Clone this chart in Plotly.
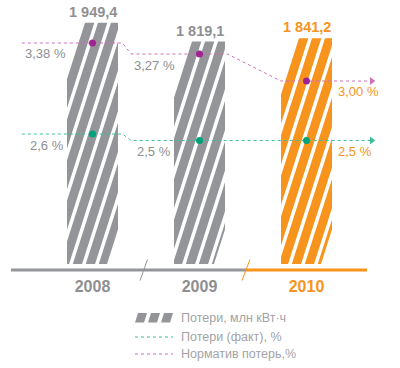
import plotly.graph_objects as go

# ---------------- data ----------------
years = ["2008", "2009", "2010"]
losses = [1949.4, 1819.1, 1841.2]          # Потери, млн кВт·ч
loss_fact = [2.6, 2.5, 2.5]                # Потери (факт), %
loss_norm = [3.38, 3.27, 3.00]             # Норматив потерь, %
legend_labels = ["Потери, млн кВт·ч", "Потери (факт), %", "Норматив потерь,%"]

# ---------------- styles ----------------
GRAY = "#939598"
ORANGE = "#f7941d"
TEXT = "#8e8f92"
LEG_TEXT = "#a2a3a6"
PINK_LINE = "#cf6fb9"
PINK_DOT = "#a0248f"
GREEN_LINE = "#3dbf9c"
GREEN_DOT = "#00a27c"
FONT = "Liberation Sans, Arial, sans-serif"
bar_colors = [GRAY, GRAY, ORANGE]
label_colors = [TEXT, TEXT, ORANGE]

FIG_W, FIG_H = 400, 368
X0_PX, STEP_PX = 92.5, 107.0          # first category centre, spacing (px)
BAR_BASE, BASE_PX, BAR_PXU = 285.0, 264.0, 0.145   # bar baseline value / pixel, px per unit
AXIS_PX = 270.0

# stripe geometry of the hatched columns (pixels)
BAR_W = 51.0
SLANT = 0.32
U_START = 18.0
PERIOD = 13.0
STRIPE = 9.3
BOTTOM_REACH = 40.0


def yrange(val, px, pxu):
    return [val - (FIG_H - px) / pxu, val + px / pxu]


def px2x(px):
    return (px - X0_PX) / STEP_PX


def ru(v, d):
    return f"{v:,.{d}f}".replace(",", " ").replace(".", ",")


def clip(poly, a, b, c):
    out = []
    n = len(poly)
    for i in range(n):
        p, q = poly[i], poly[(i + 1) % n]
        fp = a * p[0] + b * p[1] - c
        fq = a * q[0] + b * q[1] - c
        if fp <= 0:
            out.append(p)
        if fp * fq < 0:
            t = fp / (fp - fq)
            out.append((p[0] + t * (q[0] - p[0]), p[1] + t * (q[1] - p[1])))
    return out


fig = go.Figure()

# ---------------- hatched columns ----------------
for i, v in enumerate(losses):
    hpx = (v - BAR_BASE) * BAR_PXU
    u_end = BOTTOM_REACH + SLANT * hpx
    xs, ys = [], []
    k = 0
    while U_START + k * PERIOD < u_end:
        lo = U_START + k * PERIOD
        hi = min(lo + STRIPE, u_end)
        rect = [(0, 0), (BAR_W, 0), (BAR_W, hpx), (0, hpx)]
        poly = clip(rect, 1, SLANT, hi)
        poly = clip(poly, -1, -SLANT, -lo) if poly else poly
        if len(poly) >= 3:
            for (x, d) in poly + [poly[0]]:
                xs.append(i + (x - BAR_W / 2) / STEP_PX)
                ys.append(v - d / BAR_PXU)
            xs.append(None)
            ys.append(None)
        k += 1
    fig.add_trace(go.Scatter(x=xs, y=ys, mode="lines", fill="toself",
                             fillcolor=bar_colors[i], line=dict(width=0),
                             hoverinfo="skip", showlegend=False))
    fig.add_annotation(x=i, y=v, xref="x", yref="y", yanchor="bottom", yshift=1,
                       text=f"<b>{ru(v, 1)}</b>", showarrow=False,
                       font=dict(family=FONT, size=14.5, color=label_colors[i]))

# ---------------- percentage lines ----------------
LEFT = [0.66, 0.64, 0.24]
RIGHT = [0.28, 0.26, 0.61]


def step_path(vals):
    xs, ys = [], []
    for i, v in enumerate(vals):
        xs += [i - LEFT[i], i + RIGHT[i]]
        ys += [v, v]
    return xs, ys


for vals, yax, lc, dc, dec, lab_x, shifts in [
    (loss_norm, "y2", PINK_LINE, PINK_DOT, 2, [-0.645, 0.37, 2.276], [-10, -11, -10]),
    (loss_fact, "y3", GREEN_LINE, GREEN_DOT, 1, [-0.60, 0.40, 2.276], [-11, -11, -11]),
]:
    xs, ys = step_path(vals)
    fig.add_trace(go.Scatter(x=xs, y=ys, yaxis=yax, mode="lines",
                             line=dict(color=lc, width=1, dash="dot"),
                             hoverinfo="skip", showlegend=False))
    fig.add_trace(go.Scatter(x=[xs[-1]], y=[ys[-1]], yaxis=yax, mode="markers",
                             marker=dict(symbol="triangle-right", size=7, color=lc),
                             hoverinfo="skip", showlegend=False))
    fig.add_trace(go.Scatter(x=list(range(len(vals))), y=vals, yaxis=yax, mode="markers",
                             marker=dict(size=7, color=dc),
                             hoverinfo="skip", showlegend=False))
    for i, v in enumerate(vals):
        fig.add_annotation(x=lab_x[i], y=v, xref="x", yref=yax, xanchor="left",
                           yanchor="middle", yshift=shifts[i],
                           text=f"{ru(v, dec)} %", showarrow=False,
                           font=dict(family=FONT, size=13, color=label_colors[i]))

# ---------------- axis line and breaks ----------------
def px_x(px):
    return px / FIG_W


def px_y(py):
    return 1 - py / FIG_H


shapes = [
    dict(type="line", xref="paper", yref="paper", x0=px_x(11), x1=px_x(246),
         y0=px_y(AXIS_PX), y1=px_y(AXIS_PX), line=dict(color=GRAY, width=3)),
    dict(type="line", xref="paper", yref="paper", x0=px_x(245), x1=px_x(367),
         y0=px_y(AXIS_PX), y1=px_y(AXIS_PX), line=dict(color=ORANGE, width=3)),
    dict(type="line", xref="paper", yref="paper", x0=px_x(140), x1=px_x(147.5),
         y0=px_y(280.5), y1=px_y(259.5), line=dict(color=GRAY, width=1)),
    dict(type="line", xref="paper", yref="paper", x0=px_x(242), x1=px_x(250),
         y0=px_y(280.5), y1=px_y(259.5), line=dict(color=ORANGE, width=1)),
]

# ---------------- custom legend ----------------
LEG_X0, LEG_X1, LEG_TX = 135, 173, 179
LEG_Y = [318, 337, 354]
for j in range(3):
    bx = LEG_X0 + 13 * j
    path = (f"M {px_x(bx)},{px_y(322.5)} L {px_x(bx + 9)},{px_y(322.5)} "
            f"L {px_x(bx + 12)},{px_y(313)} L {px_x(bx + 3)},{px_y(313)} Z")
    shapes.append(dict(type="path", xref="paper", yref="paper", path=path,
                       fillcolor=GRAY, line=dict(width=0)))
for yy, col in [(LEG_Y[1], GREEN_LINE), (LEG_Y[2], PINK_LINE)]:
    shapes.append(dict(type="line", xref="paper", yref="paper", x0=px_x(LEG_X0),
                       x1=px_x(LEG_X1), y0=px_y(yy), y1=px_y(yy),
                       line=dict(color=col, width=1, dash="dot")))
for lab, yy in zip(legend_labels, LEG_Y):
    fig.add_annotation(x=px_x(LEG_TX), y=px_y(yy), xref="paper", yref="paper",
                       xanchor="left", yanchor="middle", text=lab, showarrow=False,
                       font=dict(family=FONT, size=12.5, color=LEG_TEXT))

ticktext = [f"<span style='color:{c}'><b>{y}</b></span>" for y, c in zip(years, label_colors)]

fig.update_layout(
    width=FIG_W, height=FIG_H,
    margin=dict(l=0, r=0, t=0, b=0),
    paper_bgcolor="white", plot_bgcolor="white",
    showlegend=False,
    hovermode=False,
    shapes=shapes,
    xaxis=dict(range=[px2x(0), px2x(FIG_W)], anchor="free",
               position=1 - AXIS_PX / FIG_H, side="bottom",
               tickvals=list(range(len(years))), ticktext=ticktext,
               ticks="", showline=False, showgrid=False, zeroline=False,
               tickfont=dict(family=FONT, size=16, color=TEXT), ticklabelstandoff=5),
    yaxis=dict(range=yrange(BAR_BASE, BASE_PX, BAR_PXU), visible=False),
    yaxis2=dict(range=yrange(3.00, 81, 100), overlaying="y", visible=False),
    yaxis3=dict(range=yrange(2.6, 134, 65), overlaying="y", visible=False),
)

fig.write_html("out.html", config={"displayModeBar": False},
               post_script="document.body.style.margin='0';")
